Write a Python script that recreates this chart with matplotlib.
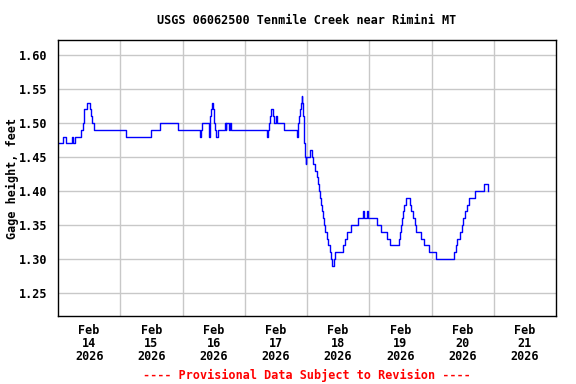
import matplotlib
matplotlib.use("Agg")
import matplotlib.pyplot as plt

# hours since Feb 14 2026 00:00, gage height (ft) -- step changes
hours = [
    0.0, 1.9, 3.2, 5.4, 5.7, 6.6, 8.8, 9.5, 9.9, 10.2, 11.1, 12.2, 12.7, 13.2, 14.0,
    26.2, 35.9, 39.4, 46.2, 54.6, 55.0, 55.4, 58.1, 58.7, 59.0, 59.3, 59.7, 60.0,
    60.3, 60.6, 60.9, 61.6, 64.3, 64.6, 64.9, 65.8, 66.2, 66.6, 80.4, 80.8, 81.3,
    81.7, 82.2, 82.8, 83.3, 83.9, 84.6, 87.3, 92.1, 92.4, 92.7, 92.9, 93.2, 93.5,
    93.9, 94.2, 94.4, 94.5, 94.7, 94.8, 95.0, 95.2, 95.5, 95.8, 97.0, 98.1, 98.5,
    99.2, 99.7, 100.2, 100.6, 101.0, 101.4, 101.8, 102.3, 102.7, 103.1, 103.6,
    104.2, 104.7, 105.2, 105.7, 106.4, 106.8, 109.9, 110.7, 111.6, 112.9, 115.5,
    117.4, 118.1, 119.0, 119.4, 122.9, 124.7, 126.7, 128.1, 131.6, 132.0, 132.4,
    132.8, 133.2, 133.5, 134.0, 135.6, 136.0, 136.9, 137.5, 138.2, 140.0, 141.3,
    143.1, 145.9, 152.8, 153.3, 153.9, 155.0, 155.7, 156.3, 156.9, 157.5, 158.4,
    160.6, 164.1, 165.8,
]
gage = [
    1.47, 1.48, 1.47, 1.48, 1.47, 1.48, 1.49, 1.50, 1.51, 1.52, 1.53, 1.52, 1.51, 1.50, 1.49,
    1.48, 1.49, 1.50, 1.49, 1.48, 1.49, 1.50, 1.48, 1.51, 1.52, 1.53, 1.52, 1.51,
    1.50, 1.49, 1.48, 1.49, 1.50, 1.49, 1.50, 1.49, 1.50, 1.49, 1.48, 1.49, 1.50,
    1.51, 1.52, 1.51, 1.50, 1.51, 1.50, 1.49, 1.48, 1.49, 1.50, 1.51, 1.52, 1.53,
    1.54, 1.53, 1.52, 1.51, 1.50, 1.49, 1.47, 1.45, 1.44, 1.45, 1.46, 1.45, 1.44,
    1.43, 1.42, 1.41, 1.40, 1.39, 1.38, 1.37, 1.36, 1.35, 1.34, 1.33,
    1.32, 1.31, 1.30, 1.29, 1.30, 1.31, 1.32, 1.33, 1.34, 1.35, 1.36,
    1.37, 1.36, 1.37, 1.36, 1.35, 1.34, 1.33, 1.32, 1.33, 1.34, 1.35,
    1.36, 1.37, 1.38, 1.39, 1.38, 1.37, 1.36, 1.35, 1.34, 1.33, 1.32,
    1.31, 1.30, 1.31, 1.32, 1.33, 1.34, 1.35, 1.36, 1.37, 1.38, 1.39,
    1.40, 1.41, 1.40,
]

tick_labels = ["Feb\n14\n2026", "Feb\n15\n2026", "Feb\n16\n2026", "Feb\n17\n2026",
               "Feb\n18\n2026", "Feb\n19\n2026", "Feb\n20\n2026", "Feb\n21\n2026"]
y_ticks = [1.25, 1.30, 1.35, 1.40, 1.45, 1.50, 1.55, 1.60]

W, H = 576, 384
font = dict(family="DejaVu Sans Mono", weight="bold", size=8.5)

fig = plt.figure(figsize=(W / 100, H / 100), dpi=100)
ax = fig.add_axes([58 / W, 1 - 316 / H, (556 - 58) / W, (316 - 40) / H])

ax.plot(hours, gage, drawstyle="steps-post", color="#0000ff", linewidth=1)

ax.set_xlim(0, 192)
ax.set_ylim(1.2162, 1.622)
ax.set_xticks([12 + 24 * i for i in range(8)])
ax.set_xticklabels(tick_labels, linespacing=1.0, **font)
ax.set_xticks([24 * i for i in range(1, 8)], minor=True)
ax.set_yticks(y_ticks)
ax.set_yticklabels(["%.2f" % v for v in y_ticks], **font)
ax.tick_params(which="both", length=0)
ax.tick_params(axis="x", pad=5.5)
ax.tick_params(axis="y", pad=8)
ax.grid(True, which="minor", axis="x", color="#c8c8c8", linewidth=1)
ax.grid(True, which="major", axis="y", color="#c8c8c8", linewidth=1)
ax.set_axisbelow(True)
for s in ax.spines.values():
    s.set_linewidth(1)
    s.set_color("black")

fig.text(307 / W, 1 - 20 / H, "USGS 06062500 Tenmile Creek near Rimini MT",
         ha="center", va="center", **font)
fig.text(12 / W, 1 - 178 / H, "Gage height, feet", rotation=90,
         ha="center", va="center", **font)
fig.text(307 / W, 1 - 375 / H, "---- Provisional Data Subject to Revision ----",
         ha="center", va="center", color="red", **font)

fig.savefig("out.png", dpi=100)
